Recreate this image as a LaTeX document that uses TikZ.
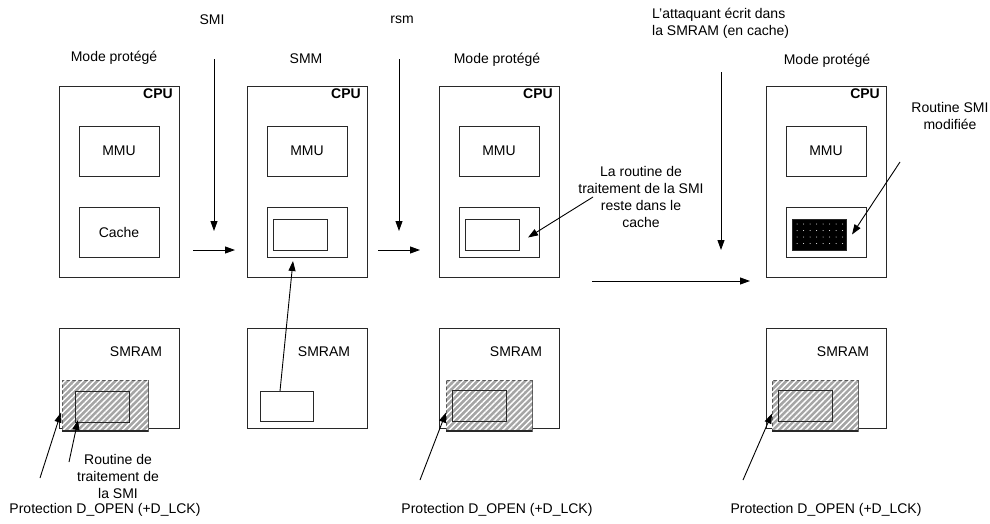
\documentclass[tikz,border=0pt]{standalone}
\usepackage{fontspec}
\setmainfont{Liberation Sans}
\usepackage{tikz}
\usetikzlibrary{positioning, arrows.meta, patterns.meta, calc}
\tikzstyle{sketch} = [x = 1pt, y = -1pt, every node/.style={font=\fontsize{14}{17}\selectfont}]
\definecolor{hatchColor}{RGB}{165,165,165}
\definecolor{lineColor}{RGB}{40,40,40}
\tikzstyle{boxStyle} = [draw=lineColor, line width=.8pt, inner sep=0, outer sep=0, anchor=north west]
\tikzstyle{arrowStyle} = [draw=black, line width=.9pt, -{Triangle[length=10pt, width=7pt]}]
\tikzstyle{plainText} = [align=center, inner sep=0]
\tikzstyle{cpuText} = [font=\fontsize{14}{17}\selectfont\bfseries, anchor=north east, inner sep=0]
\tikzstyle{hatchStyle} = [fill=hatchColor, postaction={pattern={Lines[angle=45, distance=4.2pt, line width=1.4pt]}, pattern color=white}]
\newcommand{\cpuBlock}[3]{
  \node [boxStyle, minimum width=120pt, minimum height=191pt] (#1) at (#2, 86) {};
  \node [cpuText] (#1Label) at ($(#1.north east) + (-6, 3)$) {CPU};
  \node [boxStyle, minimum width=80pt, minimum height=50pt] (#1Mmu) at (#2 + 20, 126) {};
  \node at (#1Mmu.center) {MMU};
  \node [boxStyle, minimum width=80pt, minimum height=50pt] (#1Cache) at (#2 + 20, 207) {};
  \node at (#1Cache.center) {#3};
}
\newcommand{\cacheCode}[2]{
  \node [boxStyle, minimum width=54pt, minimum height=31pt, #2] (#1Code) at ($(#1Cache.north west) + (6, 12)$) {};
}
\newcommand{\smramBlock}[2]{
  \node [boxStyle, minimum width=120pt, minimum height=100pt] (#1) at (#2, 328) {};
  \node (#1Label) at (#2 + 77, 352) {SMRAM};
}
\newcommand{\protectedBlock}[4]{
  \node [boxStyle, hatchStyle, draw=gray!70!black, minimum width=86pt, minimum height=51pt] (#1) at (#2, 380) {};
  \draw [line width=2pt, lineColor] (#1.south west) -- (#1.south east);
  \node [boxStyle, minimum width=54pt, minimum height=31pt] (#1Inner) at ($(#1.north west) + (#3, #4)$) {};
}
\newcommand{\dottedCode}[1]{
  \foreach \column in {0,...,7} {
    \foreach \row in {0,...,3} {
      \fill [white] ($(#1.north west) + (5 + 6.5 * \column, 5 + 6.5 * \row)$) circle (.5pt);
    }
  }
}

\begin{document}
\begin{tikzpicture}[sketch]
  \useasboundingbox (0, 0) rectangle (990, 523);

  % headers
  \node [plainText] (smiLabel) at (212, 20) {SMI};
  \node [plainText] (rsmLabel) at (402, 20) {rsm};
  \node [plainText, align=left, anchor=north west] (attackLabel) at (652, 8) {L'attaquant écrit dans\\la SMRAM (en cache)};
  \node [plainText] (modeOne) at (114, 58) {Mode protégé};
  \node [plainText] (modeTwo) at (306, 59) {SMM};
  \node [plainText] (modeThree) at (497, 60) {Mode protégé};
  \node [plainText] (modeFour) at (827, 61) {Mode protégé};

  % processors
  \cpuBlock{cpuOne}{59}{Cache}
  \cpuBlock{cpuTwo}{247}{}
  \cacheCode{cpuTwo}{}
  \cpuBlock{cpuThree}{439}{}
  \cacheCode{cpuThree}{}
  \cpuBlock{cpuFour}{766}{}
  \cacheCode{cpuFour}{fill=black}
  \dottedCode{cpuFourCode}

  % memories
  \smramBlock{smramOne}{59}
  \protectedBlock{lockOne}{62}{13}{11}
  \smramBlock{smramTwo}{247}
  \node [boxStyle, minimum width=53pt, minimum height=30pt] (smmCode) at (260, 391) {};
  \smramBlock{smramThree}{439}
  \protectedBlock{lockThree}{446}{6}{10}
  \smramBlock{smramFour}{766}
  \protectedBlock{lockFour}{772}{6}{10}

  % notes
  \node [plainText] (routineOne) at (118, 476) {Routine de\\traitement de\\la SMI};
  \node [plainText] (protectOne) at (105, 510) {Protection D\_OPEN (+D\_LCK)};
  \node [plainText] (protectThree) at (497, 510) {Protection D\_OPEN (+D\_LCK)};
  \node [plainText] (protectFour) at (826, 510) {Protection D\_OPEN (+D\_LCK)};
  \node [plainText] (cacheNote) at (641, 197) {La routine de\\traitement de la SMI\\reste dans le\\cache};
  \node [plainText] (modifiedNote) at (950, 116) {Routine SMI\\modifiée};

  % free ends
  \coordinate (smiTop) at (214, 59);
  \coordinate (smiEnd) at (214, 231);
  \coordinate (rsmTop) at (399, 59);
  \coordinate (rsmEnd) at (399, 231);
  \coordinate (attackTop) at (721, 72);
  \coordinate (attackEnd) at (721, 250);
  \coordinate (stepOneStart) at (193, 250);
  \coordinate (stepOneEnd) at (235, 250);
  \coordinate (stepTwoStart) at (378, 250);
  \coordinate (stepTwoEnd) at (420, 250);
  \coordinate (stepThreeStart) at (592, 281);
  \coordinate (stepThreeEnd) at (750, 281);
  \coordinate (cacheNoteStart) at (593, 197);
  \coordinate (modifiedStart) at (900, 162);
  \coordinate (routineStart) at (69, 462);
  \coordinate (protectOneStart) at (40, 478);
  \coordinate (protectThreeStart) at (420, 480);
  \coordinate (protectFourStart) at (743, 480);

  % arrows
  \draw [arrowStyle] (smiTop) -- (smiEnd);
  \draw [arrowStyle] (rsmTop) -- (rsmEnd);
  \draw [arrowStyle] (attackTop) -- (attackEnd);
  \draw [arrowStyle] (stepOneStart) -- (stepOneEnd);
  \draw [arrowStyle] (stepTwoStart) -- (stepTwoEnd);
  \draw [arrowStyle] (stepThreeStart) -- (stepThreeEnd);
  \draw [arrowStyle] ($(smmCode.north west) + (20, 0)$) -- ($(cpuTwoCache.south west) + (26, 4)$);
  \draw [arrowStyle] (cacheNoteStart) -- ($(cpuThreeCode.east) + (9, 3)$);
  \draw [arrowStyle] (modifiedStart) -- ($(cpuFourCode.east) + (6, 0)$);
  \draw [arrowStyle] (routineStart) -- ($(lockOneInner.south west) + (3, -2)$);
  \draw [arrowStyle] (protectOneStart) -- ($(lockOne.west) + (-1, 7)$);
  \draw [arrowStyle] (protectThreeStart) -- ($(lockThree.west) + (0, 7)$);
  \draw [arrowStyle] (protectFourStart) -- ($(lockFour.west) + (0, 8)$);
\end{tikzpicture}
\end{document}
